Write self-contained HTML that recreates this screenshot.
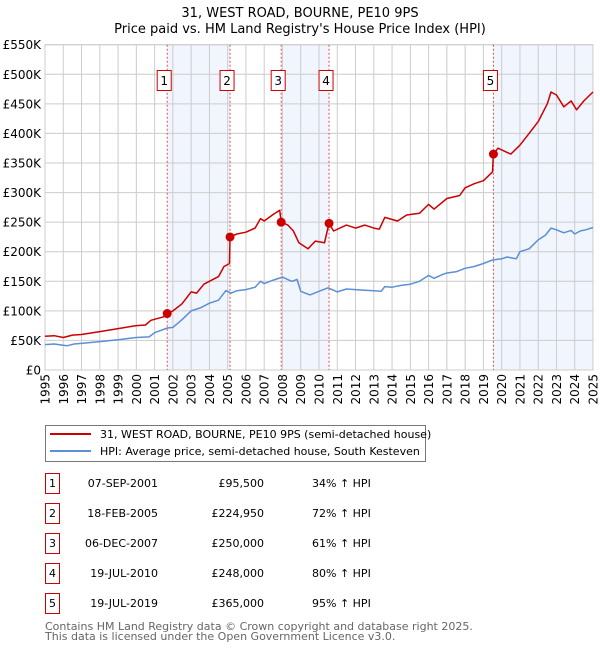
<!DOCTYPE html>
<html><head><meta charset="utf-8"><style>
body{margin:0;background:#fff;width:600px;height:650px;overflow:hidden;font-family:"DejaVu Sans","Liberation Sans",sans-serif}
svg text{font-family:"DejaVu Sans","Liberation Sans",sans-serif}
</style></head><body>
<svg id="c" width="600" height="650" xmlns="http://www.w3.org/2000/svg"></svg>
<script>
const years=[1995,1996,1997,1998,1999,2000,2001,2002,2003,2004,2005,2006,2007,2008,2009,2010,2011,2012,2013,2014,2015,2016,2017,2018,2019,2020,2021,2022,2023,2024,2025];
const yTicks=[0,50,100,150,200,250,300,350,400,450,500,550];
const hpiT=[1995,1995.5,1996,1996.2,1996.6,1997,1998,1999,2000,2000.7,2001,2001.7,2002,2002.5,2003,2003.5,2004,2004.5,2004.9,2005.2,2005.5,2006,2006.5,2006.8,2007,2007.5,2008,2008.5,2008.8,2009,2009.5,2010,2010.5,2011,2011.5,2012,2012.5,2013,2013.4,2013.6,2014,2014.5,2015,2015.5,2016,2016.3,2016.8,2017,2017.5,2018,2018.5,2019,2019.5,2020,2020.3,2020.8,2021,2021.5,2022,2022.4,2022.7,2023,2023.4,2023.8,2024,2024.3,2024.6,2025];
const hpiV=[43,44,42,41,44,45,48,51,55,56,63,71,72,85,100,105,113,118,134,130,134,136,140,150,146,152,157,150,153,133,127,133,139,132,137,136,135,134,133,141,140,143,145,150,160,155,162,164,166,172,175,180,186,188,191,188,200,205,220,228,240,237,232,236,230,235,237,241];
const saleT=[1995,1995.5,1996,1996.5,1997,1998,1999,2000,2000.5,2000.8,2001.5,2001.69,2002,2002.5,2003,2003.3,2003.7,2004,2004.5,2004.8,2005.1,2005.13,2005.5,2006,2006.5,2006.8,2007,2007.5,2007.85,2007.93,2008.3,2008.6,2008.9,2009.4,2009.8,2010.3,2010.55,2010.8,2011.5,2012,2012.5,2013,2013.3,2013.6,2014.3,2014.8,2015.5,2016,2016.3,2017,2017.7,2018,2018.5,2019,2019.5,2019.55,2019.8,2020.5,2021,2021.5,2022,2022.5,2022.7,2023,2023.4,2023.8,2024.1,2024.5,2025];
const saleV=[57,58,55,59,60,65,70,75,76,84,90,95.5,100,112,132,130,145,150,158,175,180,225,230,233,240,256,252,263,270,250,245,235,215,205,218,215,248,235,245,240,245,240,238,258,252,262,265,280,272,290,295,308,315,320,335,365,375,365,380,400,420,450,470,465,445,455,440,455,470];
const salesT=[2001.69,2005.13,2007.93,2010.55,2019.55];
const salesV=[95.5,224.95,250,248,365];
const saleLabels=["1","2","3","4","5"];
const saleDates=["07-SEP-2001","18-FEB-2005","06-DEC-2007","19-JUL-2010","19-JUL-2019"];
const salePrices=["£95,500","£224,950","£250,000","£248,000","£365,000"];
const saleHpi=["34% ↑ HPI","72% ↑ HPI","61% ↑ HPI","80% ↑ HPI","95% ↑ HPI"];

const L=45,R=593,T=44.7,B=370;
const X=t=>L+(t-1995)/30*(R-L);
const Y=v=>B-v/550*(B-T);
const svg=document.getElementById('c');
const NS='http://www.w3.org/2000/svg';
function mk(tag,attrs,parent){const e=document.createElementNS(NS,tag);for(const k in attrs)e.setAttribute(k,attrs[k]);(parent||svg).appendChild(e);return e;}
function txt(s,attrs,parent){const e=mk('text',attrs,parent);e.textContent=s;return e;}

let t1=txt('31, WEST ROAD, BOURNE, PE10 9PS',{x:300,y:17,'text-anchor':'middle','font-size':13,fill:'#000'});


let t2=txt("Price paid vs. HM Land Registry's House Price Index (HPI)",{x:300,y:33,'text-anchor':'middle','font-size':13,fill:'#000'});



const shades=[[0,1],[2,3],[4,null]];
shades.forEach(p=>{
  const x1=X(salesT[p[0]]),x2=p[1]===null?R:X(salesT[p[1]]);
  const r=mk('rect',{x:x1,y:T,width:x2-x1,height:B-T,fill:'#eef3fc',opacity:0.8});
  
  
});
years.forEach(y=>{
  const l=mk('line',{x1:X(y),x2:X(y),y1:T,y2:B,stroke:'#cccccc','stroke-width':1});
  
  
  const tx=txt(String(y),{transform:`translate(${X(y)+4.5},${B+4}) rotate(-90)`,'text-anchor':'end','font-size':12,fill:'#000'});
  
  
});
yTicks.forEach(v=>{
  const l=mk('line',{x1:L,x2:R,y1:Y(v),y2:Y(v),stroke:'#cccccc','stroke-width':1});
  
  
  const tx=txt(v===0?'£0':'£'+v+'K',{x:L-4,y:Y(v)+4.5,'text-anchor':'end','font-size':12,fill:'#000'});
  
  
});
const fr=mk('rect',{x:L,y:T,width:R-L,height:B-T,fill:'none',stroke:'#cccccc'});



salesT.forEach((t,i)=>{
  const l=mk('line',{x1:X(t),x2:X(t),y1:T,y2:B,stroke:'#e05050','stroke-width':1,'stroke-dasharray':'2,2'});
  
  
  const g=mk('g',{});
  
  
  mk('rect',{x:X(t)-10,y:70.5,width:14,height:20,fill:'#fff',stroke:'#cc0000'},g);
  txt(saleLabels[i],{x:X(t)-3,y:85,'text-anchor':'middle','font-size':12,fill:'#000'},g);
});

function path(ts,vs,color,w,name){
  let d='';ts.forEach((t,i)=>{d+=(i?'L':'M')+X(t).toFixed(1)+','+Y(vs[i]).toFixed(1);});
  const p=mk('path',{d:d,fill:'none',stroke:color,'stroke-width':w,'stroke-linejoin':'round'});
  
  
}
path(hpiT,hpiV,'#5b8fd6',1.5,'hpi-line');
path(saleT,saleV,'#cc0000',1.5,'property-price-line');
salesT.forEach((t,i)=>{
  const c=mk('circle',{cx:X(t),cy:Y(salesV[i]),r:4.5,fill:'#cc0000'});
  
  
});

const lg=mk('g',{});


mk('rect',{x:45.5,y:425.5,width:380,height:36,fill:'#fff',stroke:'#777'},lg);
mk('line',{x1:50,x2:91,y1:434,y2:434,stroke:'#cc0000','stroke-width':2},lg);
txt('31, WEST ROAD, BOURNE, PE10 9PS (semi-detached house)',{x:100,y:438,'font-size':11,fill:'#000'},lg);
mk('line',{x1:50,x2:91,y1:451,y2:451,stroke:'#5b8fd6','stroke-width':2},lg);
txt('HPI: Average price, semi-detached house, South Kesteven',{x:100,y:455,'font-size':11,fill:'#000'},lg);

saleLabels.forEach((s,i)=>{
  const cy=483+30*i;
  const g=mk('g',{});
  
  
  mk('rect',{x:45.5,y:cy-9.5,width:14,height:20,fill:'#fff',stroke:'#cc0000'},g);
  txt(s,{x:52.5,y:cy+4,'text-anchor':'middle','font-size':11,fill:'#000'},g);
  txt(saleDates[i],{x:158,y:cy+4,'text-anchor':'end','font-size':11,fill:'#000'},g);
  txt(salePrices[i],{x:264,y:cy+4,'text-anchor':'end','font-size':11,fill:'#000'},g);
  txt(saleHpi[i],{x:312,y:cy+4,'font-size':11,fill:'#000'},g);
});
let f1=txt('Contains HM Land Registry data © Crown copyright and database right 2025.',{x:45,y:630,'font-size':11,fill:'#666'});


let f2=txt('This data is licensed under the Open Government Licence v3.0.',{x:45,y:640,'font-size':11,fill:'#666'});


</script>
</body></html>
